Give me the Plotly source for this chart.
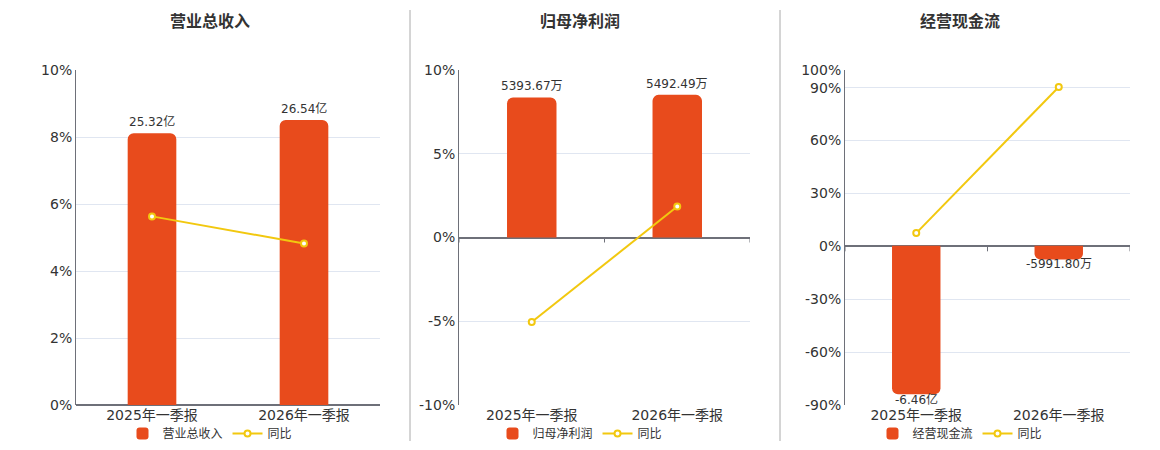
import plotly.graph_objects as go

# page body has an 8px margin; draw the figure slightly smaller and offset coordinates
OX, OY = 8, 8
W, H = 1144, 434

categories = ["2025年一季报", "2026年一季报"]

titles = ["营业总收入", "归母净利润", "经营现金流"]

# bar values (units shown in labels)
rev_values = [25.32, 26.54]          # 亿
rev_labels = ["25.32亿", "26.54亿"]
rev_yoy = [5.63, 4.82]               # %

np_values = [5393.67, 5492.49]       # 万
np_labels = ["5393.67万", "5492.49万"]
np_yoy = [-5.05, 1.85]

cf_values = [-6.46, -0.599180]       # 亿
cf_labels = ["-6.46亿", "-5991.80万"]
cf_yoy = [7.5, 90.4]

# percentage axes ticks
rev_ticks = [0, 2, 4, 6, 8, 10]
np_ticks = [-10, -5, 0, 5, 10]
cf_ticks = [-90, -60, -30, 0, 30, 60, 90, 100]

BAR_COLOR = "#E84B1C"
LINE_COLOR = "#F2C80F"
TXT = "#333333"
AXIS = "#6E7079"
GRID = "#E0E6F1"
FONT = "DejaVu Sans, Noto Sans CJK SC, sans-serif"

def px_x(p):
    return (p - OX) / W

def px_y(p):
    return (H - (p - OY)) / H

panels = [
    dict(title=titles[0], vals=rev_values, labels=rev_labels, yoy=rev_yoy, ticks=rev_ticks,
         prange=[0, 10], brange=[0, 31.2], x0=76, x1=380, center=210, width=0.32),
    dict(title=titles[1], vals=np_values, labels=np_labels, yoy=np_yoy, ticks=np_ticks,
         prange=[-10, 10], brange=[-6450, 6450], x0=459, x1=750, center=580, width=0.34),
    dict(title=titles[2], vals=cf_values, labels=cf_labels, yoy=cf_yoy, ticks=cf_ticks,
         prange=[-90, 100], brange=[-6.93, 7.64], x0=845, x1=1130, center=960, width=0.34),
]

fig = go.Figure()
layout = dict(
    width=W, height=H, margin=dict(l=0, r=0, t=0, b=0, pad=0, autoexpand=False),
    paper_bgcolor="white", plot_bgcolor="white",
    font=dict(family=FONT, color=TXT, size=12),
    barcornerradius=6,
    showlegend=True,
)
shapes = []
annotations = []
ydom = [px_y(405), px_y(70)]

for i, p in enumerate(panels):
    xn = "" if i == 0 else str(i + 1)
    yb = str(2 * i + 1) if i > 0 else ""
    yl = str(2 * i + 2)
    leg = "legend" if i == 0 else f"legend{i+1}"

    fig.add_trace(go.Bar(
        x=categories, y=p["vals"], name=p["title"], xaxis="x" + xn, yaxis="y" + yb,
        marker=dict(color=BAR_COLOR, line=dict(width=0)), width=p["width"],
        legend=leg,
    ))
    fig.add_trace(go.Scatter(
        x=categories, y=p["yoy"], name="同比", xaxis="x" + xn, yaxis="y" + yl,
        mode="lines+markers", line=dict(color=LINE_COLOR, width=2),
        marker=dict(size=6, color="white", line=dict(color=LINE_COLOR, width=2)),
        legend=leg,
    ))
    # bar value labels, anchored at each bar's end
    for c, v, lab in zip(categories, p["vals"], p["labels"]):
        annotations.append(dict(
            text=lab, xref="x" + xn, yref="y" + yb, x=c, y=v, showarrow=False,
            xanchor="center", yanchor="bottom" if v >= 0 else "middle",
            yshift=2 if v >= 0 else -5, font=dict(size=12, color=TXT, family=FONT),
        ))

    layout["xaxis" + xn] = dict(
        domain=[px_x(p["x0"]), px_x(p["x1"])], anchor="y" + yb, type="category",
        range=[-0.5, len(categories) - 0.5], showline=False, showgrid=False,
        ticks="", tickfont=dict(size=14, color=TXT), fixedrange=True, automargin=False,
    )
    layout["yaxis" + yb] = dict(
        domain=ydom, anchor="x" + xn, range=p["brange"], visible=False, fixedrange=True,
    )
    layout["yaxis" + yl] = dict(
        overlaying="y" + yb, anchor="x" + xn, side="left", range=p["prange"],
        tickvals=p["ticks"], ticktext=[f"{t}%" for t in p["ticks"]],
        tickfont=dict(size=14, color=TXT), showgrid=True, gridcolor=GRID, gridwidth=1,
        showline=True, linecolor=AXIS, linewidth=1, zeroline=True,
        zerolinecolor=AXIS, zerolinewidth=2, ticks="", fixedrange=True, automargin=False,
    )
    # category boundary tick marks on the zero line
    for k in range(len(categories) + 1):
        shapes.append(dict(
            type="line", xref="x" + xn, yref="y" + yl, x0=k - 0.5, x1=k - 0.5,
            ysizemode="pixel", yanchor=0, y0=0, y1=-5,
            line=dict(color=AXIS, width=1),
        ))
    annotations.append(dict(
        text=f"<b>{p['title']}</b>", xref="paper", yref="paper",
        x=px_x(p["center"]), y=px_y(22), xanchor="center", yanchor="middle",
        showarrow=False, font=dict(size=16, color=TXT, family=FONT),
    ))
    layout[leg] = dict(
        orientation="h", x=px_x(p["center"]), y=px_y(433.5), xanchor="center",
        yanchor="middle", font=dict(size=12, color=TXT), bgcolor="rgba(0,0,0,0)",
        tracegroupgap=0, borderwidth=0,
    )

for xs in [410, 780]:
    shapes.append(dict(
        type="line", xref="paper", yref="paper", x0=px_x(xs), x1=px_x(xs),
        y0=px_y(441), y1=px_y(10), line=dict(color="#AAAAAA", width=1),
    ))

layout["shapes"] = shapes
layout["annotations"] = annotations
fig.update_layout(**layout)
fig.write_html("out.html")
